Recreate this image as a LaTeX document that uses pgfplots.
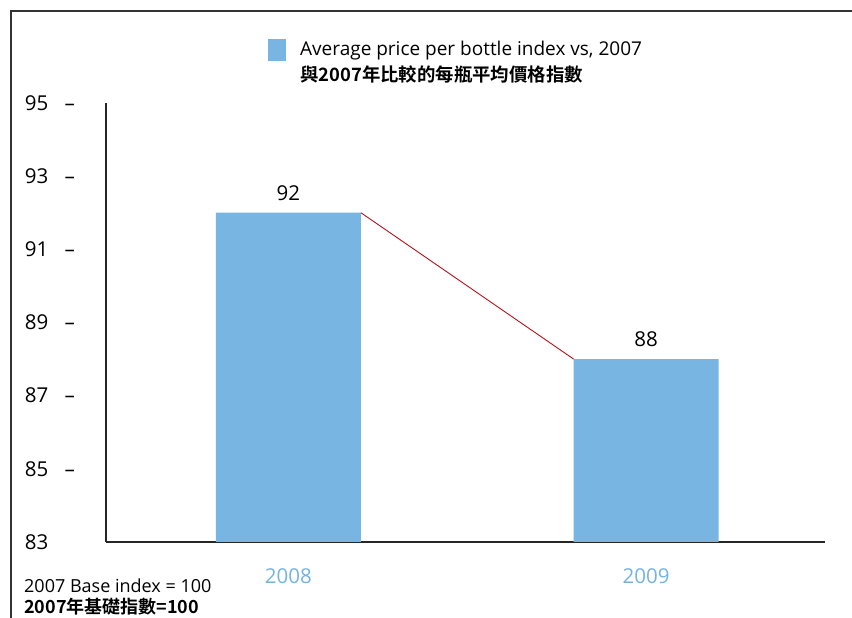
\documentclass[border=0pt]{standalone}
\usepackage{fontspec}
\setmainfont{Open Sans}
\newfontfamily\cjk{Noto Sans CJK TC}[BoldFont={Noto Sans CJK TC Bold}]
\usepackage{pgfplots}
\pgfplotsset{compat=1.18}
\definecolor{barblue}{HTML}{78B5E2}
\definecolor{lblue}{HTML}{74B3E0}
\definecolor{redline}{HTML}{B5121B}
\begin{document}
\begin{tikzpicture}
\useasboundingbox (0,0) rectangle (852pt,618pt);
\draw[line width=1.8pt, black!80] (11pt,0pt) -- (11pt,607pt) -- (852pt,607pt);
\begin{axis}[
  at={(106pt,76pt)}, anchor=south west,
  scale only axis, width=719pt, height=439pt,
  xmin=0.49, xmax=2.5, ymin=83, ymax=95,
  axis x line*=bottom, axis y line*=left,
  axis line style={line width=1.3pt, black!85},
  xtick={1,2}, xticklabels={2008,2009},
  xticklabel style={text=lblue, font=\fontsize{20.5}{24}\selectfont, anchor=north, inner sep=0pt, yshift=-26pt},
  ytick={83,85,87,89,91,93,95},
  yticklabels={{\makebox[50pt][l]{83}},{\makebox[50pt][l]{85\hfill–}},{\makebox[50pt][l]{87\hfill–}},{\makebox[50pt][l]{89\hfill–}},{\makebox[50pt][l]{91\hfill–}},{\makebox[50pt][l]{93\hfill–}},{\makebox[50pt][l]{95\hfill–}}},
  yticklabel style={anchor=east, inner sep=0pt, xshift=-31pt, font=\fontsize{20.5}{24}\selectfont},
  major tick length=0pt,
  tick style={draw=none},
  /pgf/number format/assume math mode=true,
  clip=false,
]
\addplot[ybar, bar width=145pt, bar shift=0pt, fill=barblue, draw=none,
  nodes near coords,
  every node near coord/.append style={anchor=south, inner sep=0pt, yshift=12pt, font=\fontsize{20.5}{24}\selectfont, text=black}]
  coordinates {(1,92) (2,88)};
\addplot[redline, line width=0.9pt, mark=none] coordinates {(1.2027,92) (1.7973,88)};
\end{axis}
\fill[barblue] (268pt,557pt) rectangle (286pt,579pt);
\node[anchor=base west, inner sep=0pt, font=\fontsize{19}{23}\selectfont] at (300pt,562pt) {Average price per bottle index vs, 2007};
\node[anchor=base west, inner sep=0pt, font=\cjk\bfseries\fontsize{18.4}{22}\selectfont] at (300pt,536pt) {與2007年比較的每瓶平均價格指數};
\node[anchor=base west, inner sep=0pt, font=\fontsize{18}{22}\selectfont] at (24pt,25pt) {2007 Base index = 100};
\node[anchor=base west, inner sep=0pt, font=\cjk\bfseries\fontsize{18}{22}\selectfont] at (24pt,4pt) {2007年基礎指數=100};
\end{tikzpicture}
\end{document}
